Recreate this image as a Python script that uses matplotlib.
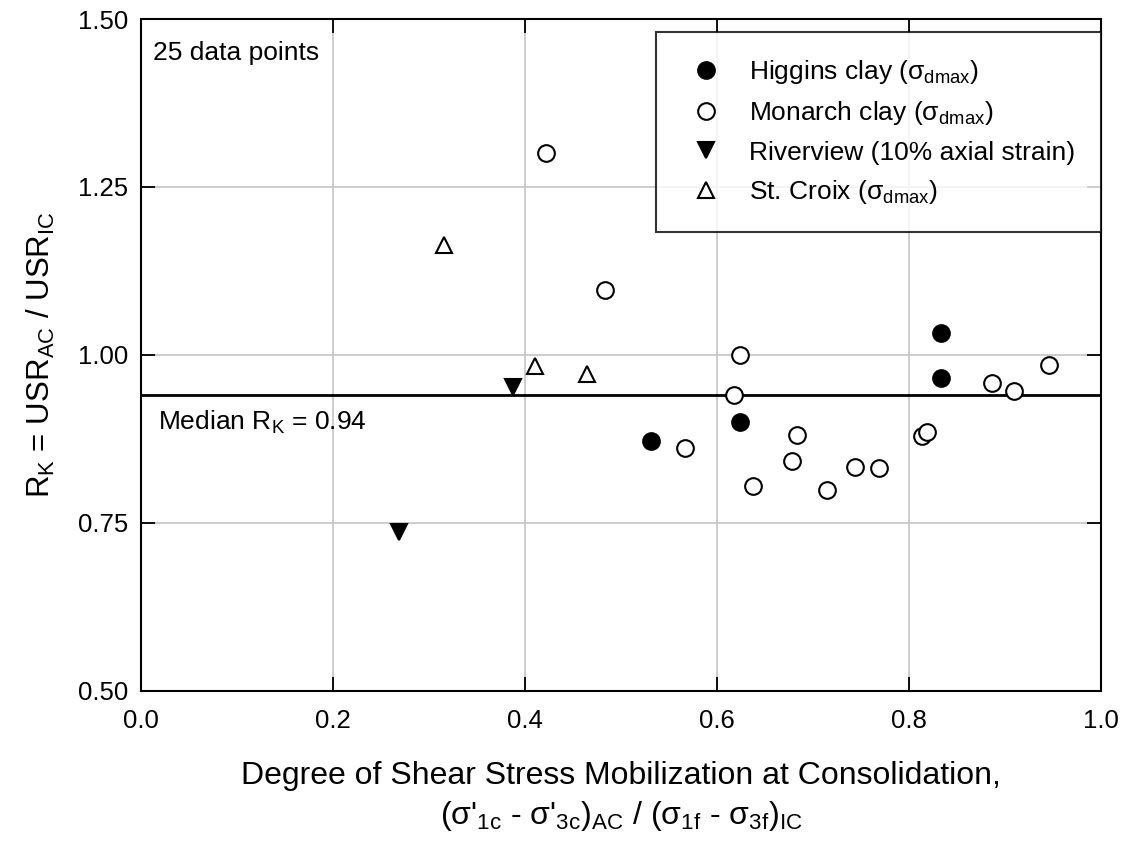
import matplotlib
matplotlib.use("Agg")
import matplotlib.pyplot as plt

plt.rcParams['font.family'] = ['Liberation Sans', 'DejaVu Sans']
plt.rcParams['mathtext.fontset'] = 'custom'
plt.rcParams['mathtext.rm'] = 'Liberation Sans'
plt.rcParams['mathtext.it'] = 'Liberation Sans:italic'
plt.rcParams['mathtext.default'] = 'rm'

# Higgins clay
higgins_x = [0.531, 0.624, 0.833, 0.833]
higgins_y = [0.872, 0.900, 1.033, 0.966]

# Monarch clay
monarch_x = [0.422, 0.483, 0.567, 0.624, 0.618, 0.637, 0.683, 0.678,
             0.715, 0.744, 0.769, 0.813, 0.819, 0.886, 0.909, 0.946]
monarch_y = [1.301, 1.096, 0.861, 1.000, 0.940, 0.805, 0.880, 0.842,
             0.799, 0.833, 0.831, 0.879, 0.885, 0.958, 0.946, 0.985]

# Riverview
river_x = [0.269, 0.387]
river_y = [0.737, 0.952]

# St. Croix
croix_x = [0.316, 0.410, 0.465]
croix_y = [1.164, 0.983, 0.972]

median_rk = 0.94

fig = plt.figure(figsize=(11.25, 8.41), dpi=100)
ax = fig.add_axes([0.1253, 0.1787, 0.8534, 0.7987])

ax.grid(True, color='#c8c8c8', linewidth=1.3, zorder=0)
ax.axhline(median_rk, color='black', linewidth=2, zorder=2)

ms = 12
ax.plot(higgins_x, higgins_y, 'o', ms=ms, mfc='black', mec='black', mew=1.5,
        label=r'Higgins clay ($\sigma_{\mathrm{dmax}}$)', zorder=3)
ax.plot(monarch_x, monarch_y, 'o', ms=ms, mfc='white', mec='black', mew=1.5,
        label=r'Monarch clay ($\sigma_{\mathrm{dmax}}$)', zorder=3)
ax.plot(river_x, river_y, 'v', ms=ms, mfc='black', mec='black', mew=1.5,
        label='Riverview (10% axial strain)', zorder=3)
ax.plot(croix_x, croix_y, '^', ms=ms - 1, mfc='white', mec='black', mew=1.5,
        label=r'St. Croix ($\sigma_{\mathrm{dmax}}$)', zorder=3)

ax.set_xlim(0, 1.0)
ax.set_ylim(0.5, 1.5)
ax.set_xticks([0.0, 0.2, 0.4, 0.6, 0.8, 1.0])
ax.set_yticks([0.50, 0.75, 1.00, 1.25, 1.50])
ax.set_xticklabels(['0.0', '0.2', '0.4', '0.6', '0.8', '1.0'])
ax.set_yticklabels(['0.50', '0.75', '1.00', '1.25', '1.50'])
ax.tick_params(direction='in', length=10, width=1.3, top=True, right=True,
               labelsize=18.5)
ax.tick_params(axis='x', pad=13)
ax.tick_params(axis='y', pad=9)
for s in ax.spines.values():
    s.set_linewidth(1.5)

ax.text(0.0125, 1.45, '25 data points', fontsize=19, va='center', ha='left')
ax.text(0.018, 0.90, r'Median R$_{\mathrm{K}}$ = 0.94', fontsize=19,
        va='center', ha='left')

ax.set_ylabel(r'R$_{\mathrm{K}}$ = USR$_{\mathrm{AC}}$ / USR$_{\mathrm{IC}}$',
              fontsize=22.5, labelpad=15)
ax.set_xlabel('Degree of Shear Stress Mobilization at Consolidation,\n'
              r"($\sigma$'$_{\mathrm{1c}}$ - $\sigma$'$_{\mathrm{3c}}$)$_{\mathrm{AC}}$"
              r" / ($\sigma_{\mathrm{1f}}$ - $\sigma_{\mathrm{3f}}$)$_{\mathrm{IC}}$",
              fontsize=23, labelpad=20, linespacing=1.35)

leg = ax.legend(loc='upper right', bbox_to_anchor=(1.0, 0.981), fontsize=19,
                frameon=True, fancybox=False, edgecolor='black',
                borderpad=1.0, labelspacing=0.5, handletextpad=0.7,
                markerscale=1.0, handlelength=1.8, borderaxespad=0)
leg.get_frame().set_linewidth(1.5)

fig.savefig('out.png', dpi=100)
